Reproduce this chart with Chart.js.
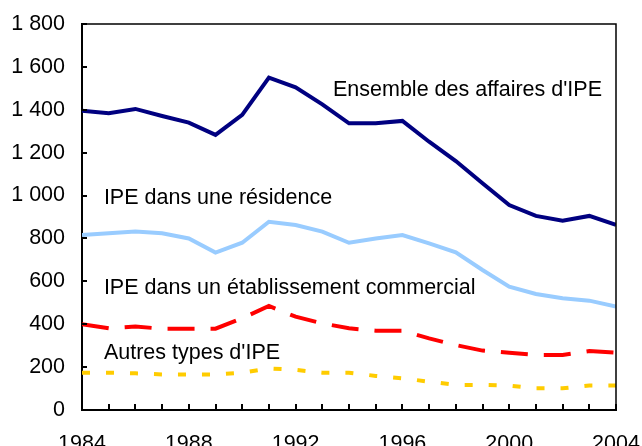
<!DOCTYPE html>
<html>
<head>
<meta charset="utf-8">
<script src="https://cdn.jsdelivr.net/npm/chart.js@4"></script>
<style>
  html, body { margin: 0; padding: 0; background: #fff; }
  #wrap { width: 642px; height: 446px; }
</style>
</head>
<body>
<div id="wrap"><canvas id="myChart" width="642" height="446"></canvas></div>
<script>
// years on the x axis
var years = [1984, 1985, 1986, 1987, 1988, 1989, 1990, 1991, 1992, 1993, 1994,
             1995, 1996, 1997, 1998, 1999, 2000, 2001, 2002, 2003, 2004];

var ensemble = [1395, 1384, 1404, 1371, 1340, 1283, 1376, 1550, 1505, 1425, 1337,
                1337, 1348, 1251, 1161, 1057, 956, 905, 883, 905, 863];
var residence = [816, 824, 832, 824, 800, 734, 780, 878, 863, 832, 780,
                 800, 816, 777, 735, 653, 575, 541, 521, 510, 482];
var commercial = [400, 381, 389, 379, 379, 379, 428, 485, 435, 404, 381,
                  370, 370, 334, 303, 277, 267, 257, 257, 275, 267];
var autres = [174, 174, 171, 166, 166, 166, 174, 194, 187, 174, 174,
              159, 148, 132, 117, 117, 114, 101, 101, 114, 114];

var seriesNames = ["Ensemble des affaires d'IPE", "IPE dans une résidence",
                   "IPE dans un établissement commercial", "Autres types d'IPE"];
// where each series name is written (year, value)
var labelYears = [1993.4, 1984.82, 1984.82, 1984.82];
var labelValues = [1493, 989, 569, 266];

var yTicks = [0, 200, 400, 600, 800, 1000, 1200, 1400, 1600, 1800];

function pts(vals) {
    return vals.map(function(v, i) { return { x: years[i], y: v }; });
}

function fmt(v) {
    return String(v).replace(/\B(?=(\d{3})+(?!\d))/g, ' ');
}

var FONT = "'Liberation Sans', Arial, sans-serif";

// series names + inside tick marks
var extras = {
    id: 'extras',
    afterDraw: function(chart) {
        var c = chart.ctx, xs = chart.scales.x, ys = chart.scales.y;
        var a = chart.chartArea;
        c.save();
        c.strokeStyle = '#000';
        c.lineWidth = 2;
        c.beginPath();
        years.forEach(function(yr) {
            var px = Math.round(xs.getPixelForValue(yr));
            c.moveTo(px, a.bottom);
            c.lineTo(px, a.bottom - 6);
        });
        yTicks.forEach(function(v) {
            var py = Math.round(ys.getPixelForValue(v));
            c.moveTo(a.left, py);
            c.lineTo(a.left + 5, py);
        });
        c.stroke();
        c.lineWidth = 1.5;
        c.beginPath();
        c.moveTo(a.left, a.top);
        c.lineTo(a.right, a.top);
        c.lineTo(a.right, a.bottom);
        c.stroke();

        c.fillStyle = '#000';
        c.font = '21.5px ' + FONT;
        c.textAlign = 'left';
        c.textBaseline = 'middle';
        seriesNames.forEach(function(name, i) {
            c.fillText(name, xs.getPixelForValue(labelYears[i]), ys.getPixelForValue(labelValues[i]));
        });
        c.restore();
    }
};

var ctx = document.getElementById('myChart').getContext('2d');
var myChart = new Chart(ctx, {
    type: 'line',
    data: {
        datasets: [{
            label: seriesNames[0],
            data: pts(ensemble),
            borderColor: '#000080',
            borderWidth: 4
        }, {
            label: seriesNames[1],
            data: pts(residence),
            borderColor: '#99CCFF',
            borderWidth: 4
        }, {
            label: seriesNames[2],
            data: pts(commercial),
            borderColor: '#FF0000',
            borderWidth: 4,
            borderDash: [27, 16]
        }, {
            label: seriesNames[3],
            data: pts(autres),
            borderColor: '#FFCC00',
            borderWidth: 4,
            borderDash: [8, 16]
        }]
    },
    plugins: [extras],
    options: {
        responsive: false,
        animation: false,
        layout: { padding: { left: 0, top: 24, right: 26, bottom: 0 } },
        elements: {
            point: { radius: 0 },
            line: { tension: 0, borderCapStyle: 'butt', borderJoinStyle: 'miter' }
        },
        plugins: {
            legend: { display: false },
            tooltip: { enabled: false }
        },
        scales: {
            x: {
                type: 'linear',
                min: 1984,
                max: 2004,
                afterFit: function(s) {
                    s.height = 36;
                    s.paddingLeft = 0;
                    s.paddingRight = 0;
                },
                afterBuildTicks: function(s) {
                    s.ticks = years.filter(function(y) { return (y - 1984) % 4 === 0; })
                        .map(function(y) { return { value: y }; });
                },
                grid: { display: false, drawTicks: false },
                border: { display: true, color: '#000', width: 2 },
                ticks: {
                    color: '#000',
                    font: { family: FONT, size: 21.5 },
                    padding: 21,
                    maxRotation: 0,
                    autoSkip: false,
                    callback: function(v) { return String(v); }
                }
            },
            y: {
                min: 0,
                max: 1800,
                afterFit: function(s) {
                    s.width = 82;
                    s.paddingTop = 0;
                    s.paddingBottom = 0;
                },
                afterBuildTicks: function(s) {
                    s.ticks = yTicks.map(function(v) { return { value: v }; });
                },
                grid: { display: false, drawTicks: false },
                border: { display: true, color: '#000', width: 2 },
                ticks: {
                    color: '#000',
                    font: { family: FONT, size: 21.5 },
                    padding: 17,
                    callback: function(v) { return fmt(v); }
                }
            }
        }
    }
});
</script>
</body>
</html>
